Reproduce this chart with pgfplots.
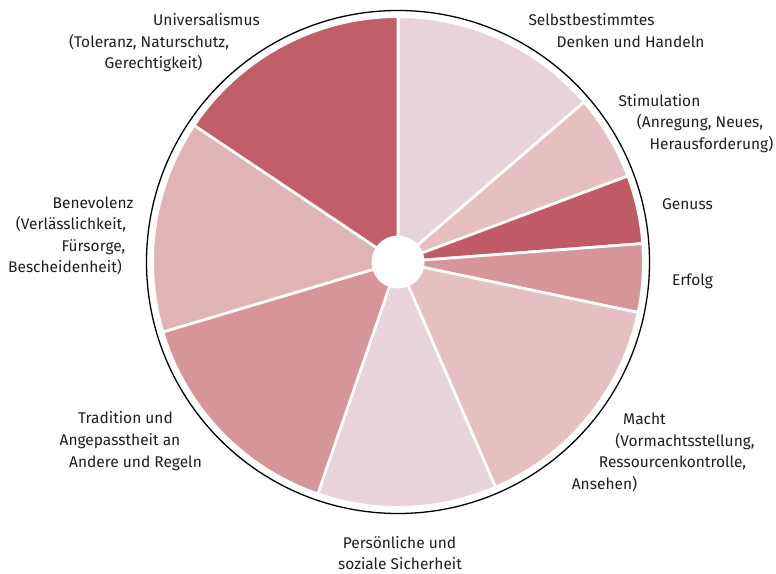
\documentclass[border=0pt]{standalone}
\usepackage{pgfplots}
\usepackage{pgfplotstable}
\pgfplotsset{compat=1.18}
\usepackage{fontspec}
\setmainfont{Fira Sans}
\definecolor{cA}{HTML}{E8D3DB}
\definecolor{cB}{HTML}{E6C0C0}
\definecolor{cC}{HTML}{C05A64}
\definecolor{cD}{HTML}{D69699}
\definecolor{cE}{HTML}{E0B3B4}
\definecolor{cF}{HTML}{C05F68}
\definecolor{txt}{HTML}{1E1E1E}
\tikzset{lab/.style={anchor=base, inner sep=0pt, text=txt, font=\fontsize{15.5}{18}\selectfont}}

% share of each value (percent), clockwise from 12 o'clock
\pgfplotstableread{
name value col
Selbstbestimmtes 13.7 cA
Stimulation 5.6 cB
Genuss 4.5 cC
Erfolg 4.5 cD
Macht 15.2 cB
Sicherheit 11.8 cA
Tradition 15.1 cD
Benevolenz 14.0 cE
Universalismus 15.6 cF
}\pietable

\begin{document}
\begin{tikzpicture}
\begin{axis}[
  x=1pt, y=1pt,
  xmin=-398, xmax=378, ymin=-311, ymax=262,
  hide axis, clip=false,
]
\addplot[draw=none, forget plot] coordinates {(-398,-311) (378,262)};
\pgfplotstablegetrowsof{\pietable}
\pgfmathtruncatemacro\N{\pgfplotsretval-1}
\def\cum{90}
\pgfplotsforeachungrouped \i in {0,...,\N}{%
  \pgfplotstablegetelem{\i}{value}\of\pietable \let\v\pgfplotsretval
  \pgfplotstablegetelem{\i}{col}\of\pietable \let\c\pgfplotsretval
  \pgfmathsetmacro\a{\cum}%
  \pgfmathsetmacro\b{\cum-3.6*\v}%
  \edef\temp{\noexpand\fill[\c, draw=white, line width=2.7pt, line join=round]
    (axis cs:0,0) -- (axis cs:{245.4*cos(\a)},{245.4*sin(\a)})
    arc[start angle=\a, end angle=\b, radius=245.4pt] -- cycle;}%
  \temp
  \let\cum\b
}
\fill[white] (axis cs:0,0) circle[radius=26.5pt];
\draw[black, line width=1.3pt] (axis cs:0,0) circle[radius=251.5pt];

% labels
\node[lab] at (axis cs:-191.5,236) {Universalismus};
\node[lab] at (axis cs:-249,214.5) {(Toleranz, Naturschutz,};
\node[lab] at (axis cs:-244.5,193) {Gerechtigkeit)};

\node[lab] at (axis cs:193.5,236) {Selbstbestimmtes};
\node[lab] at (axis cs:232.5,214.5) {Denken und Handeln};

\node[lab] at (axis cs:261.5,155.7) {Stimulation};
\node[lab] at (axis cs:302,134) {(Anregung, Neues,};
\node[lab] at (axis cs:313.5,112.5) {Herausforderung)};

\node[lab] at (axis cs:289.5,52) {Genuss};
\node[lab] at (axis cs:294.5,-24) {Erfolg};

\node[lab] at (axis cs:-305,53.7) {Benevolenz};
\node[lab] at (axis cs:-327,32) {(Verlässlichkeit,};
\node[lab] at (axis cs:-304.5,10.5) {Fürsorge,};
\node[lab] at (axis cs:-333,-11) {Bescheidenheit)};

\node[lab] at (axis cs:-272.5,-162) {Tradition und};
\node[lab] at (axis cs:-278,-183.6) {Angepasstheit an};
\node[lab] at (axis cs:-262.5,-205) {Andere und Regeln};

\node[lab] at (axis cs:246.5,-162.7) {Macht};
\node[lab] at (axis cs:287,-184.3) {(Vormachtsstellung,};
\node[lab] at (axis cs:274.5,-206) {Ressourcenkontrolle,};
\node[lab] at (axis cs:206.5,-227.5) {Ansehen)};

\node[lab] at (axis cs:1.5,-286) {Persönliche und};
\node[lab] at (axis cs:2,-307.5) {soziale Sicherheit};
\end{axis}
\end{tikzpicture}
\end{document}
